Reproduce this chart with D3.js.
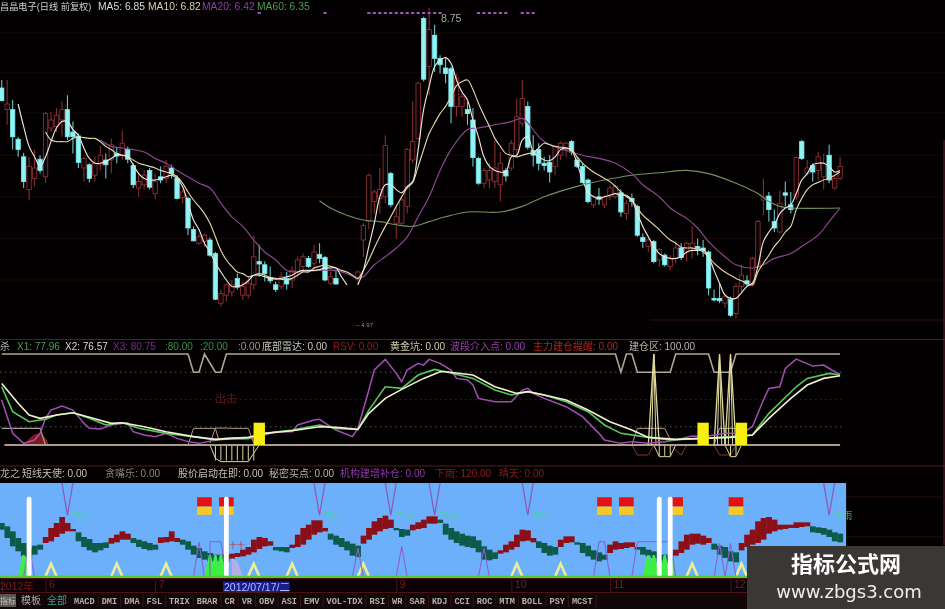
<!DOCTYPE html>
<html><head><meta charset="utf-8">
<script src="https://cdn.jsdelivr.net/npm/d3@7/dist/d3.min.js"></script>
<style>
html,body{margin:0;padding:0;background:#000;overflow:hidden}
svg{display:block;filter:blur(.55px)}
text{font-family:"Liberation Sans","Noto Sans CJK SC",sans-serif}
</style></head><body>
<svg id="c" width="945" height="609"></svg>
<script>
// ---------- candles: [open, close, high, low], null where the picture shows no candle
const ohlc=[
[7.85,7.69,7.95,7.69],[7.58,7.65,7.95,7.39],[7.58,7.24,7.70,7.08],[7.21,7.08,7.24,6.99],[6.99,6.68,7.04,6.60],[6.58,6.87,6.99,6.45],[6.72,6.85,7.08,6.62],[6.96,6.82,7.01,6.78],[6.74,7.53,7.55,6.66],[7.35,7.45,7.55,7.30],
[7.37,7.51,7.60,7.30],[7.45,7.58,7.68,7.24],[7.58,7.24,7.76,7.20],[7.30,7.24,7.43,7.03],[7.25,6.92,7.28,6.85],[6.85,6.97,6.99,6.68],[6.89,6.72,6.91,6.67],[6.76,6.91,6.99,6.68],[6.89,7.01,7.12,6.82],[6.95,6.89,7.03,6.72],
[6.95,7.14,7.22,6.78],[7.03,7.00,7.10,6.91],[7.01,7.16,7.32,6.95],[7.08,6.96,7.12,6.91],[6.88,6.64,6.91,6.60],[6.60,6.68,6.78,6.49],[6.64,6.76,6.82,6.58],[6.82,6.61,6.85,6.58],[6.53,6.68,6.78,6.46],[6.74,6.70,6.87,6.66],
[6.72,6.87,6.95,6.66],[6.85,6.78,6.89,6.72],[6.72,6.47,6.76,6.46],[6.48,6.55,6.58,6.41],[6.47,6.10,6.49,6.01],[6.08,5.94,6.12,5.93],[5.91,5.99,6.03,5.89],[5.93,6.01,6.03,5.87],[5.95,5.76,5.98,5.74],[5.78,5.21,5.80,5.20],
[5.16,5.28,5.33,5.12],[5.26,5.39,5.41,5.18],[5.30,5.39,5.45,5.24],[5.47,5.36,5.53,5.33],[5.26,5.37,5.43,5.20],[5.26,5.41,5.49,5.22],[5.39,5.74,6.01,5.33],[5.68,5.65,5.89,5.49],[5.64,5.53,5.68,5.43],[5.48,5.44,5.62,5.41],
[5.39,5.33,5.43,5.30],[5.37,5.49,5.55,5.33],[5.47,5.40,5.55,5.33],[5.45,5.57,5.62,5.35],[5.55,5.70,5.74,5.49],[5.62,5.74,5.78,5.55],[5.72,5.62,5.75,5.60],[5.66,5.80,5.89,5.57],[5.77,5.72,5.91,5.66],[5.73,5.45,5.75,5.43],
[5.41,5.49,5.55,5.39],[5.47,5.40,5.57,5.39],null,null,null,[5.46,5.55,5.57,5.39],[5.95,6.13,6.16,5.74],[6.18,6.76,6.78,6.08],[6.43,6.55,6.58,6.28],[6.47,6.58,6.85,6.28],
[6.49,7.13,7.26,6.41],[6.78,6.39,6.80,6.36],[6.16,6.24,6.37,5.97],[6.16,6.45,6.49,6.14],[6.37,7.08,7.10,6.28],[6.95,7.18,7.68,6.91],[7.22,7.91,7.93,7.20],[8.72,7.96,8.74,7.93],[8.12,8.58,8.85,7.76],[8.51,8.22,8.64,8.05],
[8.22,8.14,8.26,8.03],[8.10,8.03,8.22,7.91],[8.09,7.62,8.12,7.41],[7.62,7.97,8.03,7.49],[7.62,7.74,7.78,7.49],[7.58,7.53,7.68,7.39],[7.45,6.98,7.60,6.87],[6.97,6.66,6.99,6.64],[6.66,6.82,6.85,6.60],[6.70,6.82,6.91,6.60],
[6.68,6.85,7.20,6.60],[6.64,6.91,7.05,6.43],[6.82,6.75,6.85,6.68],[6.85,7.16,7.20,6.82],[7.08,7.49,7.72,6.99],[7.41,7.72,7.95,7.37],[7.62,7.11,7.68,7.08],[7.07,7.01,7.26,6.87],[7.08,6.91,7.16,6.82],[6.91,6.88,6.99,6.82],
[6.92,6.80,7.01,6.67],[6.87,7.12,7.12,6.76],[7.01,7.16,7.18,6.95],[7.08,7.16,7.18,6.99],[7.18,7.05,7.20,7.01],[6.95,6.87,6.99,6.85],[6.87,6.67,6.91,6.66],[6.70,6.43,6.72,6.41],[6.39,6.49,6.51,6.35],[6.49,6.46,6.60,6.39],
[6.39,6.49,6.51,6.35],[6.49,6.60,6.64,6.45],[6.49,6.62,6.64,6.47],[6.54,6.30,6.58,6.24],[6.28,6.41,6.45,6.20],[6.47,6.43,6.53,6.37],[6.37,6.01,6.39,5.99],[5.98,5.93,6.03,5.85],[5.87,5.95,5.99,5.80],[5.93,5.68,5.95,5.66],
[5.70,5.83,5.85,5.62],[5.76,5.64,5.78,5.62],[5.62,5.72,5.76,5.57],[5.72,5.85,5.93,5.66],[5.85,5.73,5.91,5.70],[5.80,5.91,5.93,5.68],[5.85,5.91,6.12,5.72],[5.87,5.84,5.97,5.76],[5.85,5.82,5.95,5.74],[5.80,5.35,5.82,5.26],
[5.22,5.20,5.33,5.18],[5.22,5.19,5.41,5.16],[5.16,5.24,5.28,5.10],[5.21,5.01,5.24,4.99],[5.03,5.37,5.41,4.97],[5.37,5.51,5.64,5.30],[5.44,5.40,5.51,5.37],[5.39,5.72,5.74,5.37],[5.62,6.18,6.20,5.60],[6.45,6.49,6.72,6.26],
[6.50,6.33,6.55,6.18],[6.18,6.10,6.33,6.05],[6.05,6.41,6.57,6.03],[6.54,6.51,6.68,6.37],[6.39,6.33,6.55,6.28],[6.49,6.98,6.99,6.45],[7.18,6.97,7.20,6.95],[6.78,6.85,6.95,6.76],[6.88,6.80,6.91,6.68],[6.82,6.99,7.05,6.70],
[6.74,6.91,7.03,6.58],[7.01,6.70,7.14,6.66],[6.60,6.72,6.76,6.58],[6.72,6.87,6.99,6.70]];

// moving averages (first day, then one value per day)
const ma5aStart=3;
const ma5a=[7.65,7.37,7.12,6.99,6.87,6.99,7.18,7.35,7.43,7.43,7.33,7.26,7.10,6.97,6.91,6.91,6.93,6.97,7.01,7.01,6.99,6.89,6.78,6.72,6.70,6.70,6.72,6.74,6.76,6.72,6.62,6.41,6.20,6.08,5.91,5.80,5.66,5.55,5.45,5.37,5.37,5.39,5.44,5.51,5.51,5.49,5.47,5.46,5.47,5.49,5.51,5.55,5.57,5.57,5.57,5.58,5.60,5.60,5.60,5.49,5.39];
const ma5bStart=65;
const ma5b=[5.39,5.57,5.87,6.16,6.49,6.64,6.64,6.58,6.54,6.62,6.68,7.08,7.58,7.87,8.12,8.20,8.23,8.16,7.95,7.80,7.70,7.45,7.24,6.99,6.87,6.82,6.80,6.80,6.99,7.01,7.20,7.24,7.05,6.99,6.95,6.94,6.99,7.08,7.10,7.07,6.91,6.70,6.55,6.49,6.47,6.49,6.51,6.53,6.51,6.51,6.45,6.28,6.12,5.99,5.87,5.78,5.74,5.72,5.72,5.74,5.80,5.82,5.82,5.83,5.74,5.57,5.41,5.26,5.22,5.22,5.29,5.37,5.41,5.62,5.93,6.05,6.14,6.28,6.35,6.39,6.53,6.70,6.78,6.89,6.91,6.91,6.87,6.80,6.82];
const ma10Start=8;
const ma10=[7.30,7.20,7.18,7.18,7.18,7.22,7.24,7.23,7.22,7.22,7.18,7.12,7.08,7.03,7.01,6.99,6.95,6.91,6.89,6.87,6.85,6.82,6.80,6.78,6.74,6.66,6.55,6.45,6.37,6.28,6.16,5.99,5.82,5.70,5.62,5.55,5.53,5.49,5.51,5.53,5.51,5.48,5.47,5.46,5.45,5.47,5.51,5.55,5.55,5.60,5.62,5.64,5.62,5.60,5.57,5.55,5.51,5.47,5.57,5.70,5.85,5.99,6.12,6.24,6.37,6.49,6.60,6.67,6.87,7.08,7.28,7.41,7.53,7.62,7.74,7.88,7.93,7.95,7.83,7.66,7.51,7.37,7.22,7.12,7.03,7.01,6.99,7.01,7.03,7.04,7.10,7.16,7.14,7.12,7.11,7.10,7.08,6.99,6.91,6.85,6.80,6.76,6.72,6.68,6.62,6.55,6.49,6.45,6.35,6.26,6.20,6.14,6.08,6.01,5.95,5.91,5.86,5.85,5.85,5.83,5.80,5.74,5.66,5.60,5.55,5.51,5.47,5.44,5.41,5.39,5.55,5.66,5.76,5.87,5.95,6.05,6.12,6.33,6.47,6.58,6.64,6.67,6.70,6.72,6.76,6.80];
const ma20=[[18,7.20],[20,7.12],[22,7.10],[24,7.08],[26,7.05],[28,6.97],[30,6.91],[32,6.82],[34,6.74],[36,6.66],[38,6.60],[40,6.41],[42,6.24],[44,6.12],[46,5.95],[48,5.80],[50,5.70],[52,5.57],[54,5.55],[58,5.57],[61,5.57],[63,5.53],[65,5.47],[66,5.49],[68,5.64],[70,5.74],[72,5.85],[74,5.99],[76,6.24],[78,6.49],[80,6.82],[82,7.08],[85,7.33],[87,7.35],[90,7.39],[93,7.43],[95,7.47],[99,7.18],[106,7.01],[109,6.97],[112,6.91],[115,6.78],[117,6.64],[120,6.49],[122,6.35],[125,6.22],[127,6.10],[129,5.93],[132,5.74],[134,5.64],[137,5.60],[139,5.64],[141,5.72],[144,5.78],[146,5.87],[149,6.01],[151,6.18],[153,6.35]];
const ma60=[[58,6.44],[60,6.35],[63,6.26],[66,6.20],[69,6.18],[72,6.14],[75,6.12],[78,6.18],[81,6.24],[85,6.30],[91,6.30],[95,6.37],[99,6.49],[105,6.62],[110,6.70],[115,6.76],[120,6.79],[125,6.82],[129,6.78],[134,6.66],[138,6.53],[140,6.43],[142,6.37],[144,6.35],[153,6.35]];
const priceTicks=[8.54,8.04,7.54,7.01,6.49,5.97,5.45];
const signalDays=[47,59,67,68,69,70,71,72,73,74,75,76,77,78,79,80,87,88,89,90,91,92,95,96,97];

// oscillator [day, value]
const x3=[[0,49.4],[1,31.1],[2,12.8],[4,1.8],[6,5.5],[7,12.8],[8,29.3],[9,38.4],[11,42.8],[13,38.4],[15,23.8],[16,18.3],[18,17.6],[20,22],[23,24.5],[24,14.6],[26,11],[28,9.2],[30,12.8],[32,7.3],[34,3.7],[36,1.8],[39,5.5],[41,7.3],[45,7.3],[48,11],[50,14.6],[53,14.6],[54,22],[57,27.5],[58,28.2],[60,20.1],[61,16.5],[64,9.2],[65,18.3],[67,60.4],[68,82.4],[70,94.1],[72,78.7],[73,69.5],[74,82.4],[76,89.7],[77,87.8],[78,94.1],[80,89.7],[82,82.4],[83,73.2],[85,71.4],[86,65.9],[87,51.2],[90,47.6],[93,47.6],[95,60.4],[96,62.2],[97,56.7],[99,51.2],[103,42.1],[106,31.1],[109,12.8],[110,5.5],[113,1.8],[115,3.7],[118,1.8],[121,3.7],[123,5.5],[126,9.9],[128,9.2],[132,12.8],[135,12.8],[137,20.1],[139,49.4],[140,62.2],[142,64],[143,84.2],[145,94.4],[148,86.7],[150,87.8],[152,80.5],[153,78]];
const x1=[[0,64],[2,36.6],[5,25.6],[8,28.2],[10,32.9],[13,35.5],[16,29.3],[19,22],[22,24.5],[25,18.3],[30,12.8],[35,9.2],[39,5.5],[42,7.3],[45,7.3],[48,12.8],[53,16.5],[58,22],[61,18.3],[65,17.2],[67,38.4],[70,64],[73,62.2],[76,76.9],[79,83.1],[81,80.5],[86,73.2],[90,60.4],[93,54.9],[96,58.6],[99,54.9],[103,47.6],[107,36.6],[110,22],[113,12.8],[117,9.2],[122,5.5],[128,7.3],[133,9.2],[137,11],[140,34.8],[145,64],[147,73.2],[151,78.7],[153,76.9]];
const x2=[[0,67.7],[3,45.8],[5,32.9],[7,29.3],[10,32.9],[13,35.5],[16,30.4],[20,23.8],[22,24.5],[26,20.1],[30,14.6],[35,9.2],[39,6.2],[42,7.3],[45,8.4],[48,12.8],[53,15.7],[58,20.1],[61,19.4],[65,17.2],[67,34.8],[70,51.2],[73,61.1],[77,73.2],[80,80.5],[81,80.5],[86,76.9],[90,64],[94,56.7],[96,58.6],[99,54.9],[103,49.4],[107,38.4],[111,25.6],[115,16.5],[118,8.4],[123,6.2],[128,7.3],[133,8.4],[137,11],[140,29.3],[144,51.2],[147,65.9],[150,73.2],[153,76.1]];
const zoneLine=[[0,100],[34,100],[35,80],[36,80],[37,100],[39,80],[40,80],[41,100],[112,100],[113,80],[114,100],[115,100],[116,80],[122,80],[123,100],[129,100],[130,80],[133,80],[134,100],[153,100]];
const spikeDays=[119,131,133];
const leftShelf=[[0,18.3],[7,18.3],[8,0]];
const boxes=[[[34,0],[35,18.3],[39,18.3],[39.6,6]],[[38,2],[39,18.6],[41,18.6],[42,18.3],[45,18.3],[46,2]],[[115,0],[116,18.3],[121,18.3],[122,6]],[[130,0],[131,18.3],[134,18.3],[135,2]]];
const bowls=[[[38,0],[39,-14.6],[40,-18.3],[45,-18.3],[46,-9],[47,0]],[[119,0],[120,-12.8],[122,-12.8],[123,0]],[[132,0],[133,-12.8],[134,-12.8],[135,0]]];
const bowlsDark=[[[115,0],[116,-11],[118,-11],[119,0]],[[122,0],[124,-11],[125,0]],[[130,0],[131,-11],[133,-11],[134,0]]];
const hatchDays=[39,40,41,42,43,44,45,46,120,121,122,133,134];
const redBlob=[[4,0],[5,6],[6,11],[7,12],[8,7],[8.5,0]];
const redBand=[[39,6],[41,7],[44,7],[46,8]];
const blockDays=[47,128,135];
const blockValue=24.5;

// ribbon [high, low] per day
const ribbon=[[162,142],[152,117],[137,92],[117,77],[102,62],[87,52],[94,67],[97,82],[120,102],[147,107],[162,120],[180,130],[162,137],[144,137],[134,107],[120,90],[114,80],[102,74],[102,80],[104,87],[117,100],[127,104],[137,112],[130,112],[117,102],[112,90],[107,84],[102,80],[97,82],[119,102],[120,104],[137,107],[117,105],[112,97],[107,82],[94,67],[87,57],[77,52],[72,47],[67,47],[67,47],[65,45],[70,55],[72,60],[82,62],[90,67],[112,74],[120,84],[117,92],[107,94],[90,80],[90,77],[90,74],[97,87],[127,90],[147,97],[157,112],[170,127],[170,134],[147,137],[130,112],[124,97],[117,90],[107,80],[100,64],[94,60],[124,100],[147,112],[167,127],[177,137],[184,144],[172,147],[147,140],[144,120],[142,124],[157,140],[164,144],[172,147],[182,160],[182,160],[172,162],[160,127],[147,112],[137,102],[130,94],[124,90],[122,87],[110,74],[92,52],[82,50],[74,54],[80,70],[97,74],[107,82],[127,90],[142,107],[140,109],[117,104],[107,87],[102,72],[94,64],[90,67],[112,90],[122,102],[122,104],[104,97],[102,72],[94,62],[80,52],[74,47],[67,52],[97,72],[107,82],[102,84],[104,87],[104,90],[90,82],[90,67],[82,62],[77,57],[67,47],[67,42],[62,42],[82,64],[107,72],[127,82],[130,97],[130,100],[124,97],[117,102],[100,82],[94,67],[90,57],[77,47],[74,44],[102,80],[127,90],[142,97],[167,102],[177,112],[180,130],[172,137],[157,142],[157,144],[157,147],[164,147],[164,150],[164,152],[152,134],[149,132],[147,127],[142,120],[134,107],[130,104]];
const redRuns=[[8,13],[20,23],[29,32],[42,49],[53,59],[66,71],[75,79],[91,97],[102,104],[111,115],[123,129],[135,147]];
const whiteBarDays=[5,41,120,122];
const whiteBarValue=102.6;
const flagDays=[37,41,110,114,123,134];
const flagLevels=[101.8,89.9,79.3];
const rainDays=[12,58,71,79,96,151];
const rainBottom=79;
const purpleShapes=[[[4,0],[5,39],[6,0]],[[35,0],[36,45],[37,0]],[[38,0],[38,45],[40,45],[41,0]],[[64,0],[65,37],[66,0]],[[72,0],[73,39],[74,0]],[[87,0],[88,37],[89,0]],[[108,0],[109,45],[110,45],[111,0]],[[115,0],[116,45],[122,45],[123,0]],[[130,0],[131,43],[132,0]],[[132,0],[133,43],[134,0]]];
const lavender=[[42,0],[42,24],[43,20],[44,0]];
const paleTriDays=[9,21,30,46,53,66,94,102,126,135];
const paleTriValue=17;
const greenSpikes=[4,38,39,40,118,119,120,121,122];
const greenSpikeValue=28;
const monthTicks=[8,28,72,93,111,133];
const monthLabels=["6","7","9","10","11","12"];
const tabs=["MACD","DMI","DMA","FSL","TRIX","BRAR","CR","VR","OBV","ASI","EMV","VOL-TDX","RSI","WR","SAR","KDJ","CCI","ROC","MTM","BOLL","PSY","MCST"];

const svg=d3.select("#c");
const W=945,H=609;
const x=d3.scaleLinear().domain([0,153]).range([1.7,840.1]);
const yP=d3.scaleLinear().domain([8.95,4.95]).range([0,320]);
const yO=d3.scaleLinear().domain([0,100]).range([445,354]);
const yR=d3.scaleLinear().domain([0,120]).range([577,483]);
const yB=d3.scaleLinear().domain([0,360]).range([577,457]);
const dw=x(1)-x(0);

svg.append("rect").attr("width",W).attr("height",H).attr("fill","#020001");

// ---- price panel
const gridC="#170909";
svg.append("g").selectAll("line").data(priceTicks).join("line")
 .attr("x1",0).attr("x2",W).attr("y1",d=>yP(d)).attr("y2",d=>yP(d)).attr("stroke",gridC);
svg.append("line").attr("x1",650).attr("x2",W).attr("y1",yP(4.95)).attr("y2",yP(4.95)).attr("stroke","#2e1012");
svg.append("line").attr("x1",944).attr("x2",944).attr("y1",140).attr("y2",545).attr("stroke","#4a1520").attr("stroke-width",1.5);

const candles=ohlc.map((c,i)=>c&&({i,o:c[0],c:c[1],h:c[2],l:c[3]})).filter(Boolean);
const gC=svg.append("g");
gC.selectAll("line").data(candles).join("line")
 .attr("x1",d=>x(d.i)).attr("x2",d=>x(d.i)).attr("y1",d=>yP(d.h)).attr("y2",d=>yP(d.l))
 .attr("stroke",d=>d.c>=d.o?"#8a2c2c":"#69c6ca").attr("stroke-width",1.1);
gC.selectAll("rect").data(candles).join("rect")
 .attr("x",d=>x(d.i)-2.2).attr("width",4.4)
 .attr("y",d=>yP(Math.max(d.o,d.c))).attr("height",d=>Math.max(1.5,Math.abs(yP(d.o)-yP(d.c))))
 .attr("fill",d=>d.c>=d.o?"#0a0204":"#8ff4f6")
 .attr("stroke",d=>d.c>=d.o?"#96343a":"#7ce8ec").attr("stroke-width",.8);

const seq=(arr,start)=>arr.map((v,k)=>[start+k,v]);
const lnP=d3.line().x(d=>x(d[0])).y(d=>yP(d[1])).curve(d3.curveCatmullRom.alpha(.5));
const drawMA=(data,col)=>svg.append("path").attr("d",lnP(data)).attr("fill","none").attr("stroke",col).attr("stroke-width",1.15);
drawMA(ma60,"#75905f");
drawMA(ma20,"#8c4a92");
drawMA(seq(ma10,ma10Start),"#e0d5a8");
drawMA(seq(ma5a,ma5aStart),"#ece6da");
drawMA(seq(ma5b,ma5bStart),"#ece6da");

svg.append("g").selectAll("rect").data(signalDays).join("rect")
 .attr("x",d=>x(d)-1.6).attr("y",12).attr("width",3.2).attr("height",2).attr("fill","#a552c0");
svg.append("text").attr("x",441).attr("y",22).attr("fill","#a9a9a6").attr("font-size",10.5).text("8.75");
svg.append("text").attr("x",352).attr("y",327).attr("fill","#8c8c8c").attr("font-size",6).text("· -- 4.97");

const txt=(s,tx,ty,col,fs)=>svg.append("text").attr("x",tx).attr("y",ty).attr("fill",col).attr("font-size",fs||10.5).text(s);
txt("昌晶电子(日线 前复权)",0,9.5,"#cfcfcf",9.2);
txt("MA5: 6.85",98,9.5,"#dcdcdc",10.3);
txt("MA10: 6.82",148,9.5,"#d8d1a8",10.3);
txt("MA20: 6.42",202,9.5,"#8f3fa5",10.3);
txt("MA60: 6.35",257,9.5,"#4f9a50",10.3);

// ---- oscillator panel
svg.append("line").attr("x1",0).attr("x2",W).attr("y1",339.5).attr("y2",339.5).attr("stroke","#5c1a1c");
[["杀",0,"#b0b0a8"],["X1: 77.96",17,"#4f9a58"],["X2: 76.57",65,"#d8d8d0"],["X3: 80.75",113,"#7a2f90"],[":80.00",165,"#3f8f4a"],[":20.00",200,"#3f8f4a"],[":0.00",238,"#9a9a90"],["底部雷达: 0.00",262,"#c9c9c0"],["RSV: 0.00",333,"#8c1f22"],["黄金坑: 0.00",390,"#d0ccae"],["波段介入点: 0.00",450,"#9c3fb0"],["主力建仓提醒: 0.00",533,"#a82822"],["建仓区: 100.00",629,"#b9b5ad"]]
 .forEach(t=>txt(t[0],t[1],349.5,t[2],10));
[80,50,20].forEach((v,k)=>svg.append("line").attr("x1",0).attr("x2",842).attr("y1",yO(v)).attr("y2",yO(v))
  .attr("stroke",k==1?"#3a1c1c":"#5a5852").attr("stroke-dasharray","1.5 3.5"));
const lnO=d3.line().x(d=>x(d[0])).y(d=>yO(d[1]));
const pO=(data,col,w,fill)=>svg.append("path").attr("d",lnO(data)).attr("fill",fill||"none").attr("stroke",col).attr("stroke-width",w);

pO(redBlob,"#a01f20",1,"#7d1a1c");
pO(redBand,"#b02526",2.5);
boxes.forEach(b=>pO(b,"#b79c84",1));
bowlsDark.forEach(b=>pO(b,"#7a3d24",1));
bowls.forEach(b=>pO(b,"#dcd79c",1));
svg.append("g").selectAll("line").data(hatchDays).join("line")
 .attr("x1",d=>x(d)).attr("x2",d=>x(d)).attr("y1",yO(0)).attr("y2",d=>yO(d<50?-17:-12)).attr("stroke","#dcd79c");
pO(leftShelf,"#a8a096",1.2);
pO([[0.5,0],[153,0]],"#ab9c8e",2);
pO(zoneLine,"#b0a594",1.6);
spikeDays.forEach(d=>{pO([[d-1,0],[d,100],[d+1,0]],"#e2da9c",1.3);pO([[d-.4,0],[d,100],[d+.4,0]],"#e2da9c",1);});
pO(x3,"#a24fb4",1.5);
pO(x1,"#58c85a",1.6);
pO(x2,"#f2f0d0",1.6);
svg.append("g").selectAll("rect").data(blockDays).join("rect")
 .attr("x",d=>x(d)-5.7).attr("width",11.4).attr("y",yO(blockValue)).attr("height",yO(0)-yO(blockValue)).attr("fill","#f7ee12");
txt("出击",215,403,"#651518",11);

// ---- signal panel
svg.append("line").attr("x1",0).attr("x2",W).attr("y1",466).attr("y2",466).attr("stroke","#5c1a1c");
[["龙之",0,"#b8b4a8"],["短线天使: 0.00",22,"#c6c2b2"],["贪嘴乐: 0.00",105,"#8a8678"],["股价启动在即: 0.00",178,"#c6c2b2"],["秘密买点: 0.00",269,"#b9b5a5"],["机构建增补仓: 0.00",340,"#8e3ca6"],["下雨: 120.00",435,"#8c1c1e"],["晴天: 0.00",499,"#8c1c1e"]]
 .forEach(t=>txt(t[0],t[1],477,t[2],10));
[497,537].forEach(v=>svg.append("line").attr("x1",846).attr("x2",W).attr("y1",v).attr("y2",v).attr("stroke","#2a0c0e"));
svg.append("rect").attr("x",0).attr("y",yR(120)).attr("width",x(153)+6).attr("height",yR(0)-yR(120)).attr("fill","#6cb0fb");

const isRed=i=>redRuns.some(r=>i>=r[0]&&i<=r[1]);
svg.append("g").selectAll("rect").data(ribbon).join("rect")
 .attr("x",(d,i)=>x(i)-dw/2).attr("width",dw+.3)
 .attr("y",d=>yB(d[0])).attr("height",d=>yB(d[1])-yB(d[0]))
 .attr("fill",(d,i)=>isRed(i)?"#8c0e16":"#0d5a4a");

const lnR=d3.line().x(d=>x(d[0])).y(d=>yR(d[1]));
svg.append("path").attr("d",lnR(lavender)).attr("fill","#b4aee8");
// green spikes
svg.append("g").selectAll("path").data(greenSpikes).join("path")
 .attr("d",d=>lnR([[d-1,0],[d-.2,greenSpikeValue],[d+.2,greenSpikeValue],[d+1,0]])).attr("fill","#3fee42");
// pale triangles
svg.append("g").selectAll("path").data(paleTriDays).join("path")
 .attr("d",d=>lnR([[d-1,1],[d,paleTriValue],[d+1,1]])).attr("fill","none").attr("stroke","#eeee90").attr("stroke-width",2.6);
purpleShapes.forEach(s=>svg.append("path").attr("d",lnR(s)).attr("fill","none").attr("stroke","#8a62cc").attr("stroke-width",1.1));
rainDays.forEach(d=>{
 svg.append("path").attr("d",lnR([[d-1,120],[d,rainBottom],[d+1,120]])).attr("fill","none").attr("stroke","#8a5cb8").attr("stroke-width",1.3);
 svg.append("text").attr("x",x(d)+4).attr("y",yR(rainBottom)+4).attr("fill","#48d890").attr("font-size",9.5).attr("opacity",.75).text("下雨");
});
// flags
const gF=svg.append("g");
gF.selectAll("rect.r").data(flagDays).join("rect").attr("class","r").attr("x",d=>x(d)-7.3).attr("width",14.6).attr("y",yR(flagLevels[0])).attr("height",yR(flagLevels[1])-yR(flagLevels[0])).attr("fill","#e01212");
gF.selectAll("rect.o").data(flagDays).join("rect").attr("class","o").attr("x",d=>x(d)-7.3).attr("width",14.6).attr("y",yR(flagLevels[1])).attr("height",yR(flagLevels[2])-yR(flagLevels[1])).attr("fill","#f6c828");
// white bars
svg.append("g").selectAll("rect").data(whiteBarDays).join("rect")
 .attr("x",d=>x(d)-2.4).attr("width",4.8).attr("rx",2.2).attr("y",yR(whiteBarValue)).attr("height",yR(0)-yR(whiteBarValue)).attr("fill","#fdfdff");
txt("十十",229,548,"#c83232",8);
// ground line
svg.append("line").attr("x1",0).attr("x2",x(153)+6).attr("y1",yR(0)).attr("y2",yR(0)).attr("stroke","#58c832").attr("stroke-width",2.4);

// ---- date axis
svg.append("rect").attr("x",0).attr("y",578.5).attr("width",W).attr("height",14).attr("fill","#0a0204");
const axis=d3.axisBottom(x).tickValues(monthTicks).tickSize(14).tickFormat((d,i)=>monthLabels[i]);
const gA=svg.append("g").attr("transform","translate(0,578)").call(axis);
gA.select(".domain").attr("stroke","#4a1416");
gA.selectAll(".tick line").attr("stroke","#4a1416");
gA.selectAll(".tick text").attr("y",10).attr("dy",0).attr("x",3).attr("text-anchor","start").attr("fill","#7c1c1c").attr("font-size",10.5).attr("font-family",'"Liberation Sans"');
txt("2012年",0,590,"#7c1c1c",10.5);
svg.append("rect").attr("x",223).attr("y",581.5).attr("width",66.5).attr("height",10.5).attr("fill","#1c1c8e");
txt("2012/07/17/二",224,590.5,"#a8c0ff",10.5);

// ---- tabs
svg.append("rect").attr("x",0).attr("y",593).attr("width",W).attr("height",16).attr("fill","#120708");
svg.append("line").attr("x1",0).attr("x2",W).attr("y1",592.5).attr("y2",592.5).attr("stroke","#4a1416");
svg.append("rect").attr("x",-2).attr("y",594).attr("width",18).attr("height",13).attr("fill","#5a5450");
txt("指标",0,604,"#c8c4bc",8);
txt("模板",21,604,"#b0aca4",10);
txt("全部",47,604,"#2fa58a",10);
let tx=74;
tabs.forEach(t=>{
 const e=svg.append("text").attr("x",tx).attr("y",604).attr("fill","#b5b0a8").attr("font-size",8.6).attr("font-weight","bold").style("font-family",'"Liberation Mono",monospace').text(t);
 const w=e.node().getComputedTextLength();
 svg.append("line").attr("x1",tx+w+3.5).attr("x2",tx+w+3.5).attr("y1",595).attr("y2",607).attr("stroke","#351616");
 tx+=w+7;
});

// ---- watermark
svg.append("rect").attr("x",747).attr("y",546).attr("width",198).attr("height",63).attr("fill","#3b3735");
svg.append("text").attr("x",846).attr("y",572).attr("text-anchor","middle").attr("fill","#fff").attr("font-size",22).attr("font-weight","bold").style("font-family",'"Noto Sans CJK SC"').text("指标公式网");
svg.append("text").attr("x",849).attr("y",598).attr("text-anchor","middle").attr("fill","#eee").attr("font-size",18).style("font-family",'"DejaVu Sans"').text("www.zbgs3.com");
</script></body></html>
